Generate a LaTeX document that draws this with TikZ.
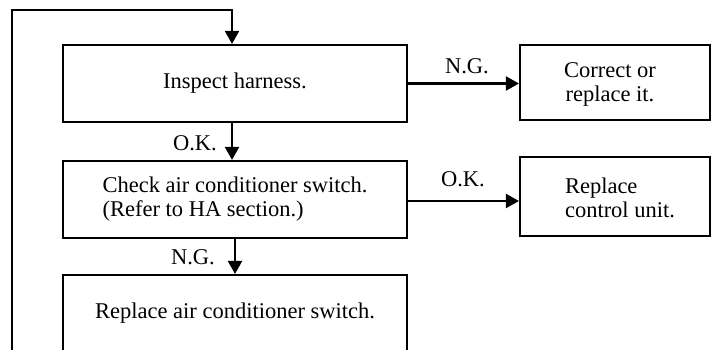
\documentclass[tikz,border=0pt]{standalone}
\usepackage{fontspec}
\setmainfont{Liberation Serif}
\usetikzlibrary{arrows.meta}
\begin{document}
\begin{tikzpicture}[x=1pt,y=-1pt,
  every node/.style={font=\fontsize{22.5}{24}\selectfont, inner sep=0pt},
  box/.style={draw, line width=2.1pt, inner sep=0pt},
  lbl/.style={},
  arr/.style={line width=2.1pt, -{Triangle[length=13pt,width=14pt]}}]
\useasboundingbox (0,0) rectangle (716,349);
\node[box, minimum width=344pt, minimum height=77pt] (b1) at (235,83.5) {Inspect harness.};
\node[box, minimum width=344pt, minimum height=77pt, align=left] (b2) at (235,199.5) {Check air conditioner switch.\\(Refer to HA section.)};
\node[box, minimum width=344pt, minimum height=77pt] (b3) at (235,313.5) {Replace air conditioner switch.};
\node[box, minimum width=190pt, minimum height=75pt] (b4) at (615,82.5) {};
\node[align=center] (t4) at (610,84) {Correct or\\replace it.};
\node[box, minimum width=190pt, minimum height=79pt] (b5) at (615,196.5) {};
\node[align=left] (t5) at (620,198) {Replace\\control unit.};
\coordinate (lb) at (12,360);
\coordinate (lt) at (12,10);
\draw[arr] (lb) -- (lt) -- ([xshift=-3pt]lt -| b1.north) -- ([xshift=-3pt]b1.north);
\draw[arr] ([xshift=-3pt]b1.south) -- ([xshift=-3pt]b2.north);
\draw[arr] (b2.south) -- (b3.north);
\draw[arr] (b1.east) -- (b1.east -| b4.west);
\draw[arr] ([yshift=-1.5pt]b2.east) -- ([yshift=-1.5pt]b2.east -| b5.west);
\node[lbl] (ng1) at (467,66) {N.G.};
\node[lbl] (ok2) at (463,179) {O.K.};
\node[lbl] (ok1) at (195,143) {O.K.};
\node[lbl] (ng2) at (193,257) {N.G.};
\end{tikzpicture}
\end{document}
